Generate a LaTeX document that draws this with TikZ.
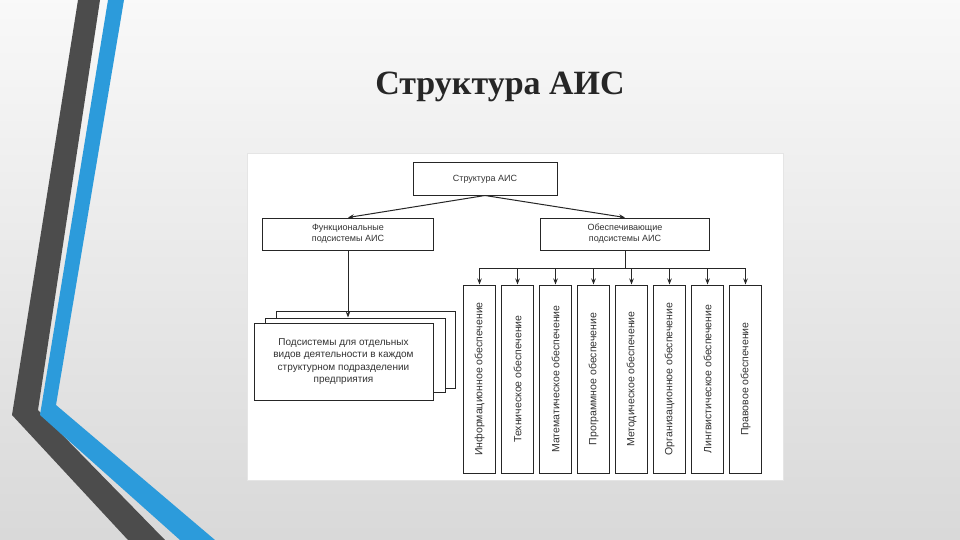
\documentclass[tikz,border=0pt]{standalone}
\usepackage{fontspec}
\setmainfont{Liberation Serif}
\newfontfamily\dsans{Liberation Sans}
\usetikzlibrary{arrows.meta}
\definecolor{bstripe}{HTML}{2C9BDB}
\begin{document}
\begin{tikzpicture}[x=1pt,y=-1pt,
  bx/.style={draw=black!85,line width=1pt,fill=white,inner sep=0pt,font=\dsans\fontsize{9}{11}\selectfont,text=black!80,align=center},
  ar/.style={draw=black!85,line width=1pt,-{Stealth[length=6pt,width=4.5pt]}},
  ln/.style={draw=black!85,line width=1pt}]
\useasboundingbox (0,0) rectangle (960,540);
\shade[top color=white!95!gray,bottom color=black!15] (0,0) rectangle (960,540);
\fill[black!70] (78,0) -- (100,0) -- (38,410) -- (165,540) -- (128,540) -- (12,415) -- cycle;
\fill[bstripe] (108,0) -- (124,0) -- (56,405) -- (215,540) -- (180,540) -- (40,415) -- cycle;
\node[font=\fontsize{34}{38}\selectfont\bfseries,text=black!85] (title) at (500,87) {Структура АИС};
\fill[white,draw=black!10] (247,153) rectangle (783,480);
\node[bx,minimum width=144pt,minimum height=32pt] (top) at (485,179) {Структура АИС};
\node[bx,minimum width=171pt,minimum height=32pt] (fun) at (348,234) {Функциональные\\подсистемы АИС};
\node[bx,minimum width=169pt,minimum height=32pt] (obs) at (625,234) {Обеспечивающие\\подсистемы АИС};
\draw[ar] (top.south) -- (fun.north);
\draw[ar] (top.south) -- (obs.north);
\node[bx,minimum width=179pt,minimum height=77pt] (s3) at (365.5,349.5) {};
\node[bx,minimum width=180pt,minimum height=74pt] (s2) at (355,355) {};
\node[bx,minimum width=179pt,minimum height=77pt,font=\dsans\fontsize{10}{12.5}\selectfont] (s1) at (343.5,361.5) {Подсистемы для отдельных\\видов деятельности в каждом\\структурном подразделении\\предприятия};
\coordinate (sa) at (fun.south |- s2.north);
\draw[ar] (fun.south) -- (sa);
\coordinate (bus) at (625,268);
\draw[ln] (obs.south) -- (bus);
\foreach \i/\t in {0/Информационное обеспечение,1/Техническое обеспечение,2/Математическое обеспечение,3/Программное обеспечение,4/Методическое обеспечение,5/Организационное обеспечение,6/Лингвистическое обеспечение,7/Правовое обеспечение}{
  \node[bx,minimum width=32pt,minimum height=188pt] (c\i) at ({479.5+38*\i},379) {};
  \node[font=\dsans\fontsize{10.5}{12}\selectfont,text=black!80,rotate=90] (t\i) at (c\i) {\t};
  \coordinate (b\i) at (c\i.north |- bus);
  \draw[ar] (b\i) -- (c\i.north);
}
\draw[ln] (b0) -- (b7);
\end{tikzpicture}
\end{document}
